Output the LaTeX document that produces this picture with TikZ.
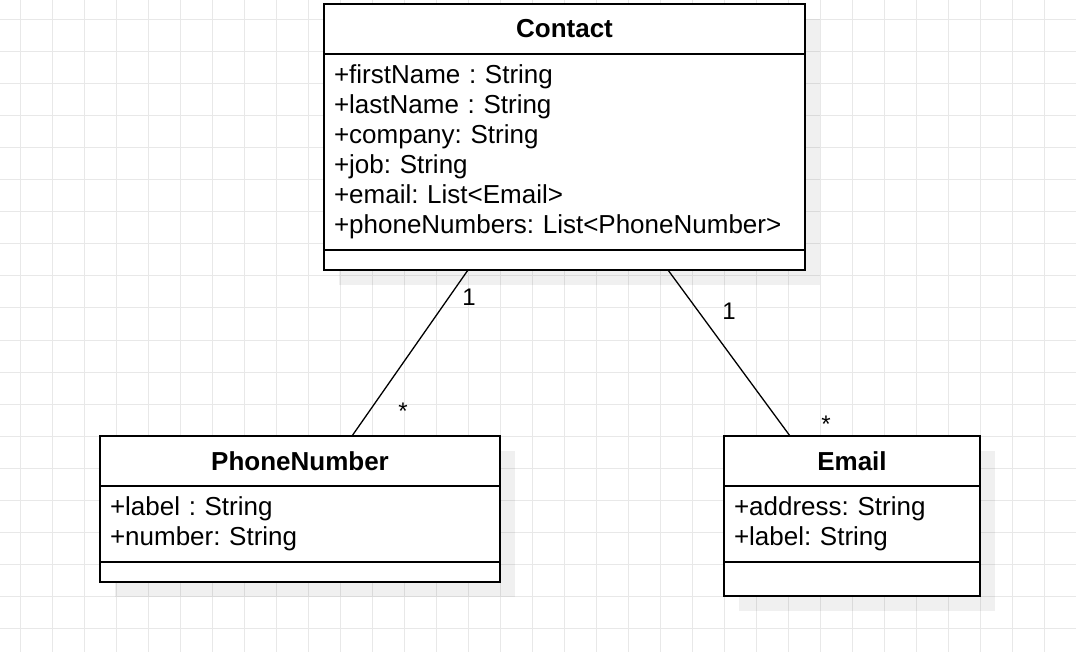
\documentclass[tikz,border=0pt]{standalone}
\usepackage{fontspec}
\setmainfont{Liberation Sans}
\usetikzlibrary{positioning,shadows}
\frenchspacing
\tikzset{classname/.style={
    % The shape:
    rectangle,
    outer sep=0pt,
    inner sep=0pt,
    % The border:
    line width=2pt,
    draw=black,
    fill=white,
    % The shadow:
    drop shadow={shadow xshift=15pt,shadow yshift=-15pt,fill=black,opacity=0.06},
    % Font
    font=\fontsize{26}{30}\selectfont\bfseries
    },
    classattrs/.style={
    rectangle,
    outer sep=0pt,
    inner xsep=10pt,
    inner ysep=0pt,
    line width=2pt,
    draw=black,
    fill=white,
    drop shadow={shadow xshift=15pt,shadow yshift=-15pt,fill=black,opacity=0.06},
    align=left,
    font=\fontsize{26}{30}\selectfont
    },
    classops/.style={
    rectangle,
    outer sep=0pt,
    inner sep=0pt,
    line width=2pt,
    draw=black,
    fill=white,
    drop shadow={shadow xshift=15pt,shadow yshift=-15pt,fill=black,opacity=0.06},
    },
    multiplicity/.style={
    inner sep=0pt,
    font=\fontsize{24}{30}\selectfont
    },
    association/.style={line width=1.3pt},
    gridline/.style={draw=black!9,line width=1pt},
}

\begin{document}
\begin{tikzpicture}[x=1pt,y=-1pt,node distance=0pt]
    \useasboundingbox (0,0) rectangle (1076,652);
    % background grid
    \foreach \gx in {20,52,...,1076}
        \draw[gridline] (\gx,0) -- (\gx,652);
    \foreach \gy in {20,52,...,652}
        \draw[gridline] (0,\gy) -- (1076,\gy);

    \node (contact)      [classname,minimum width=481pt,minimum height=50pt,anchor=north west] at (324,4) {Contact};
    \node (contactattrs) [classattrs,minimum width=481pt,text width=461pt,minimum height=196pt,below=of contact]
        {+firstName : String\\+lastName : String\\+company: String\\+job: String\\+email: List<Email>\\+phoneNumbers: List<PhoneNumber>};
    \node (contactops)   [classops,minimum width=481pt,minimum height=20pt,below=of contactattrs] {};

    \node (phone)        [classname,minimum width=400pt,minimum height=50pt,anchor=north west] at (100,436) {PhoneNumber};
    \node (phoneattrs)   [classattrs,minimum width=400pt,text width=380pt,minimum height=76pt,below=of phone]
        {+label : String\\+number: String};
    \node (phoneops)     [classops,minimum width=400pt,minimum height=20pt,below=of phoneattrs] {};

    \node (email)        [classname,minimum width=256pt,minimum height=50pt,anchor=north west] at (724,436) {Email};
    \node (emailattrs)   [classattrs,minimum width=256pt,text width=236pt,minimum height=76pt,below=of email]
        {+address: String\\+label: String};
    \node (emailops)     [classops,minimum width=256pt,minimum height=34pt,below=of emailattrs] {};

    \draw[association] ([xshift=144pt]contactops.south west) -- ([xshift=252pt]phone.north west);
    \draw[association] ([xshift=344pt]contactops.south west) -- ([xshift=66pt]email.north west);

    \node (phoneone)   [multiplicity] at (469,297) {1};
    \node (phonemany)  [multiplicity] at (403,411) {*};
    \node (emailone)   [multiplicity] at (729,311) {1};
    \node (emailmany)  [multiplicity] at (826,424) {*};
\end{tikzpicture}
\end{document}
